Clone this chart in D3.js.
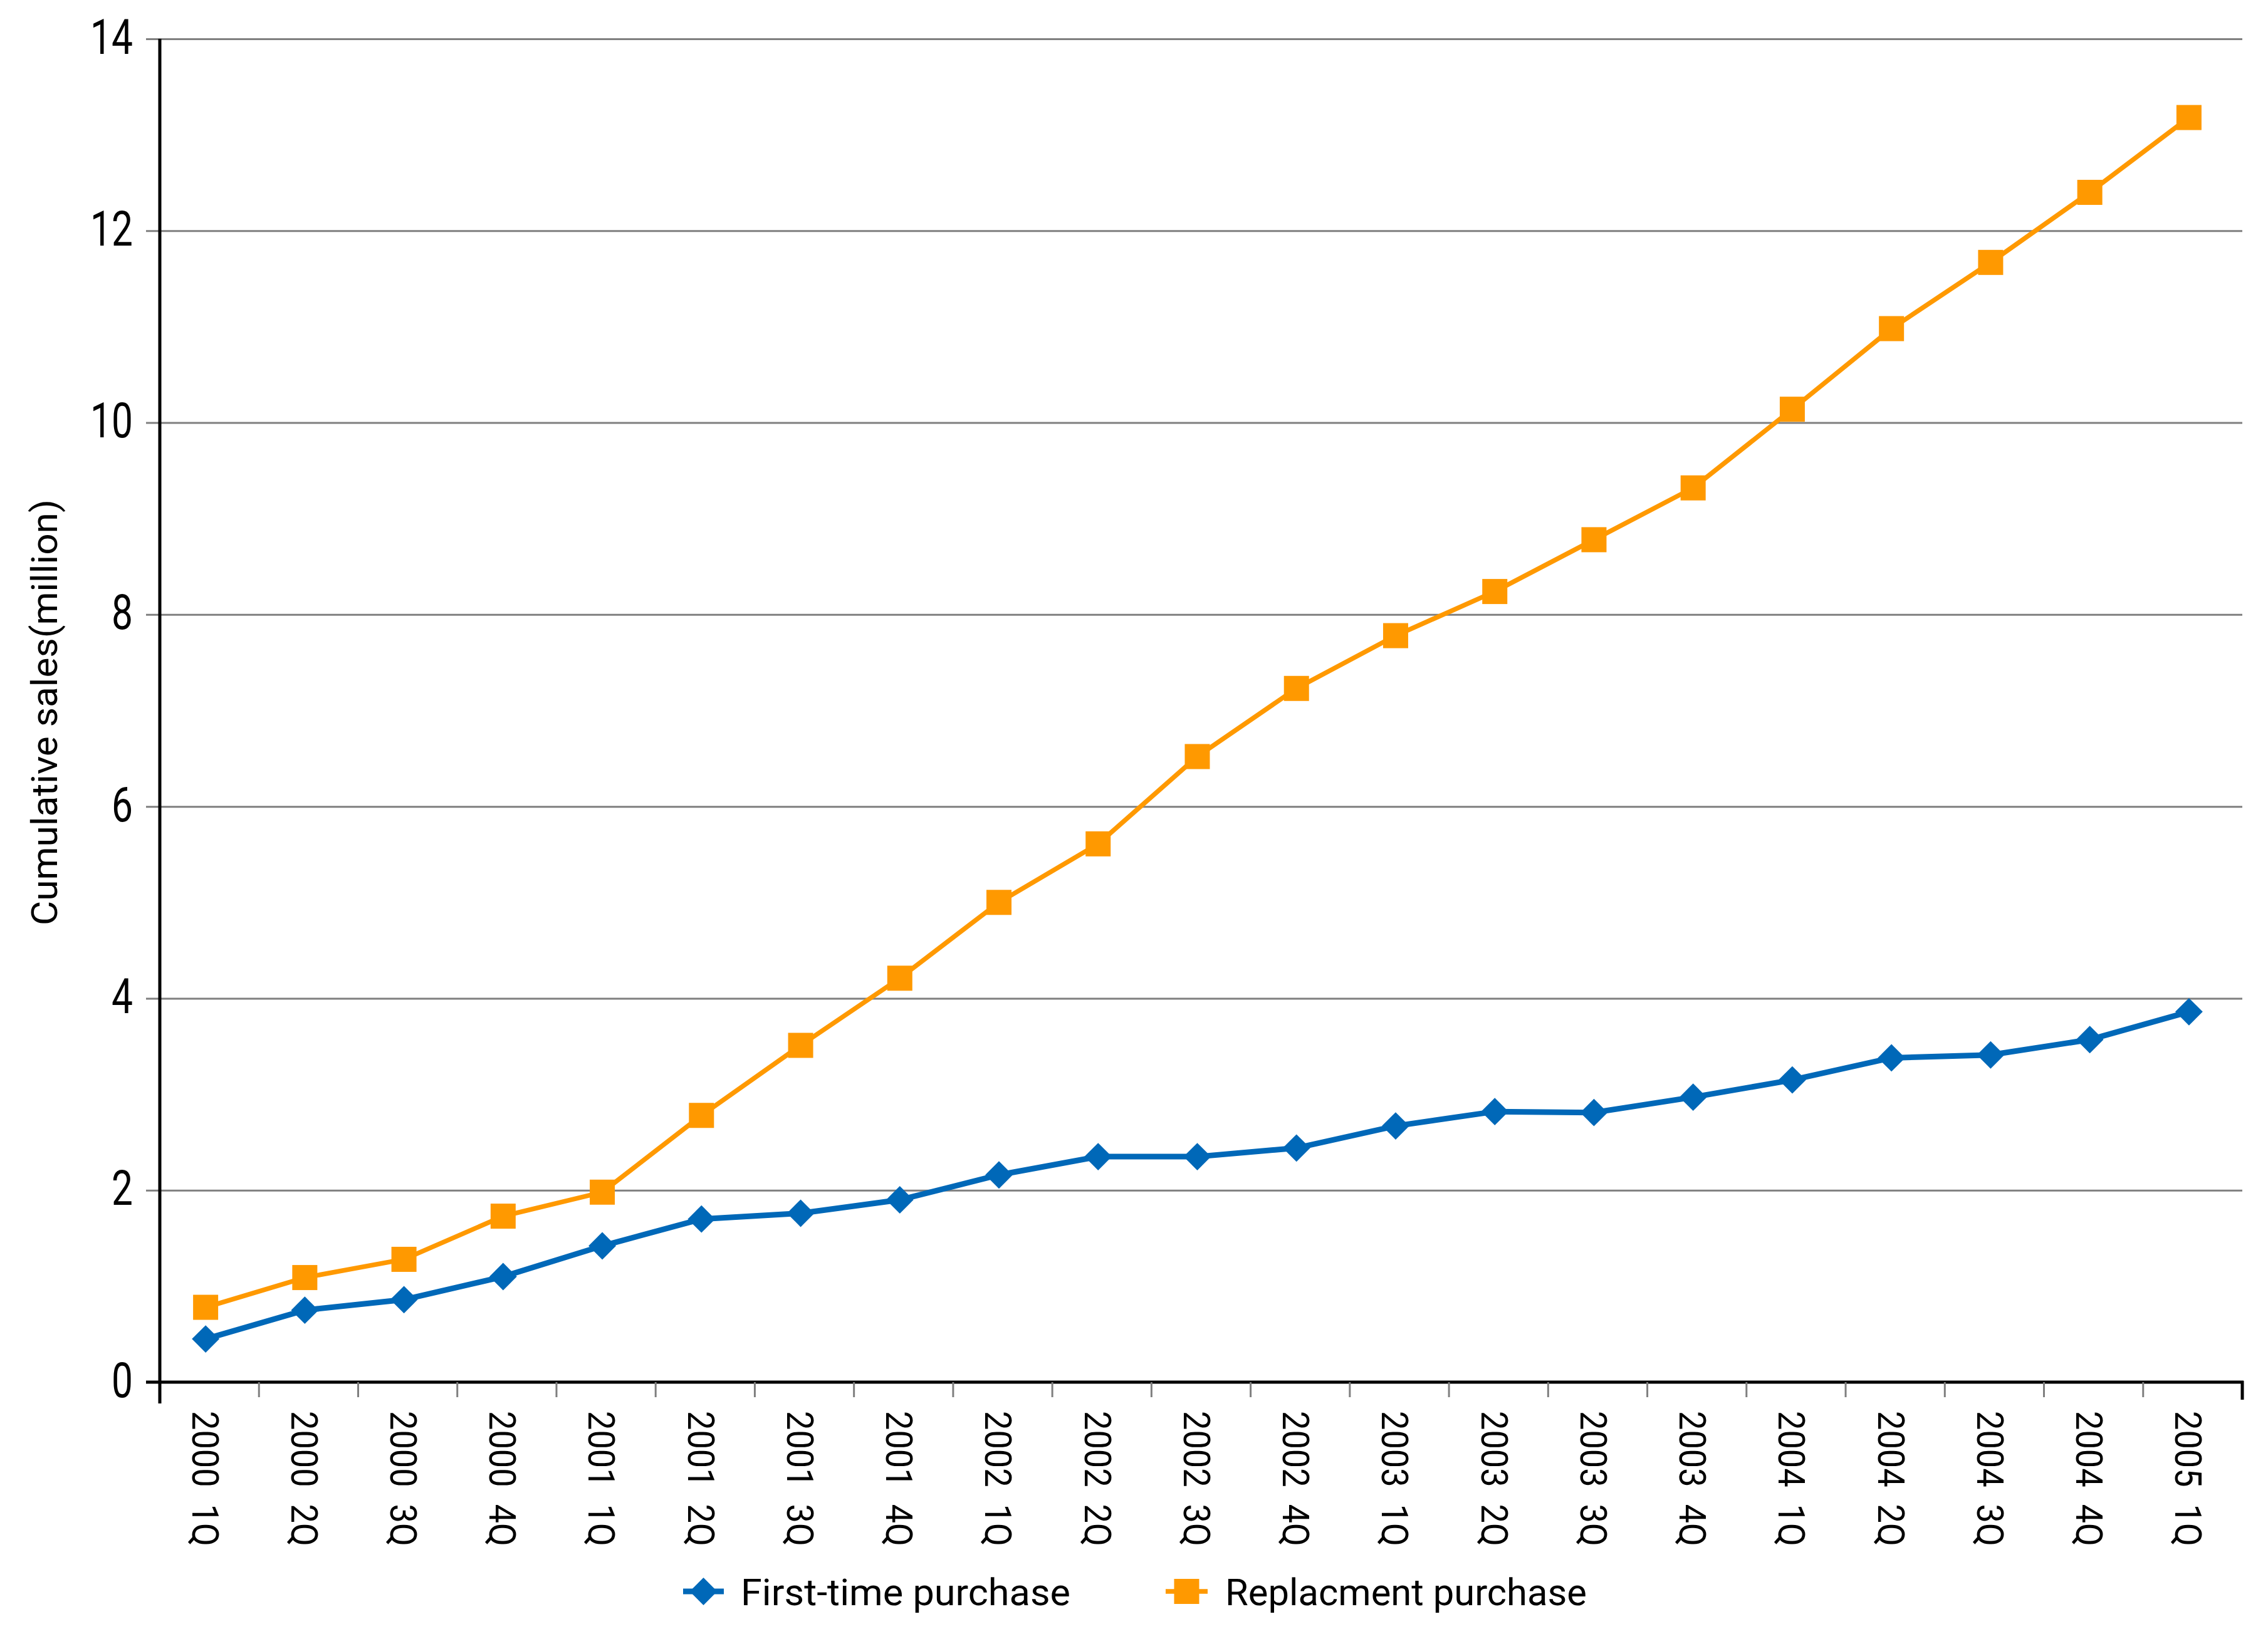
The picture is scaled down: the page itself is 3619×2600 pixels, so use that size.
<!DOCTYPE html>
<html>
<head>
<meta charset="utf-8">
<script src="https://cdn.jsdelivr.net/npm/d3@7"></script>
<style>
  html, body { margin: 0; padding: 0; background: #fff; }
  svg { display: block; }
  text { font-family: Roboto, "Noto Sans", sans-serif; fill: #000; }
</style>
</head>
<body>
<svg id="chart" width="3619" height="2600"></svg>
<script>
const categories = ["2000 1Q","2000 2Q","2000 3Q","2000 4Q","2001 1Q","2001 2Q","2001 3Q","2001 4Q",
  "2002 1Q","2002 2Q","2002 3Q","2002 4Q","2003 1Q","2003 2Q","2003 3Q","2003 4Q",
  "2004 1Q","2004 2Q","2004 3Q","2004 4Q","2005 1Q"];
const firstTime = [0.45,0.75,0.86,1.10,1.42,1.70,1.76,1.90,2.16,2.35,2.35,2.44,2.67,2.82,2.81,2.97,3.15,3.38,3.41,3.57,3.86];
const replacement = [0.78,1.09,1.28,1.73,1.98,2.78,3.51,4.21,5.00,5.61,6.52,7.23,7.78,8.24,8.78,9.32,10.14,10.98,11.67,12.40,13.18];
const yTicks = [0,2,4,6,8,10,12,14];
const seriesNames = ["First-time purchase","Replacment purchase"];
const colors = ["#0068b8","#ff9900"];

const svg = d3.select("#chart");
const pLeft = 255, pRight = 3578, pTop = 62, pBottom = 2206;
const gridStart = 233;
const ptShift = -6;

const x = d3.scaleBand().domain(categories).range([pLeft, pRight]).padding(0);
const y = d3.scaleLinear().domain([0, 14]).range([pBottom, pTop]);
const cx = c => x(c) + x.bandwidth() / 2 + ptShift;

// gridlines
const grid = svg.append("g").attr("transform", `translate(${gridStart},0)`)
  .call(d3.axisRight(y).tickValues(yTicks).tickSize(pRight - gridStart).tickFormat(""));
grid.select(".domain").remove();
grid.selectAll("line").attr("stroke", "#7f7f7f").attr("stroke-width", 3);

// y tick labels
const yl = svg.append("g").attr("transform", "translate(212,0)")
  .call(d3.axisLeft(y).tickValues(yTicks).tickSize(0).tickPadding(0));
yl.select(".domain").remove();
yl.selectAll("text")
  .attr("font-size", 77).attr("dy", "0.3em")
  .attr("font-family", "Roboto, sans-serif")
  .attr("textLength", d => String(d).length * 34)
  .attr("lengthAdjust", "spacingAndGlyphs");

// x axis line & ticks
svg.append("line").attr("x1", gridStart).attr("x2", pRight + 2).attr("y1", pBottom).attr("y2", pBottom)
  .attr("stroke", "#000").attr("stroke-width", 5);
svg.append("g").selectAll("line").data(categories.slice(1)).join("line")
  .attr("x1", d => x(d)).attr("x2", d => x(d))
  .attr("y1", pBottom).attr("y2", pBottom + 24)
  .attr("stroke", "#7f7f7f").attr("stroke-width", 3);
svg.append("line").attr("x1", pRight).attr("x2", pRight).attr("y1", pBottom - 2).attr("y2", pBottom + 28)
  .attr("stroke", "#000").attr("stroke-width", 5);
// y axis line
svg.append("line").attr("x1", pLeft).attr("x2", pLeft).attr("y1", pTop).attr("y2", pBottom + 34)
  .attr("stroke", "#000").attr("stroke-width", 5);

// x labels
svg.append("g").selectAll("text").data(categories).join("text")
  .attr("transform", d => `translate(${x(d) + x.bandwidth() / 2 - 6},2252) rotate(90)`)
  .attr("text-anchor", "start").attr("dy", "0.36em")
  .attr("font-size", 60)
  .attr("textLength", 216).attr("lengthAdjust", "spacingAndGlyphs")
  .text(d => d.replace(" ", "\u00a0\u00a0"));

// y title
svg.append("text")
  .attr("transform", "translate(70,1137) rotate(-90)")
  .attr("text-anchor", "middle").attr("dy", "0.36em")
  .attr("font-size", 58)
  .attr("textLength", 680).attr("lengthAdjust", "spacingAndGlyphs")
  .text("Cumulative sales(million)");

// lines
const line = d3.line().x((d, i) => cx(categories[i])).y(d => y(d));
const data = [firstTime, replacement];
const widths = [9, 7.5];
data.forEach((s, k) => {
  svg.append("path").datum(s).attr("d", line)
    .attr("fill", "none").attr("stroke", colors[k]).attr("stroke-width", widths[k])
    .attr("stroke-linejoin", "miter");
});

function marker(g, k, px, py) {
  if (k === 0) {
    g.append("rect").attr("x", -15.5).attr("y", -15.5).attr("width", 31).attr("height", 31)
      .attr("fill", colors[0])
      .attr("transform", `translate(${px},${py}) rotate(45)`);
  } else {
    g.append("rect").attr("x", px - 20).attr("y", py - 20).attr("width", 40).attr("height", 40)
      .attr("fill", colors[1]);
  }
}
data.forEach((s, k) => {
  const g = svg.append("g");
  s.forEach((v, i) => marker(g, k, cx(categories[i]), y(v)));
});

// legend
const legY = 2540;
const legItems = [
  { x0: 1090, x1: 1155, tx: 1182, len: 526 },
  { x0: 1860, x1: 1927, tx: 1955, len: 577 }
];
legItems.forEach((it, k) => {
  const g = svg.append("g");
  g.append("line").attr("x1", it.x0).attr("x2", it.x1).attr("y1", legY).attr("y2", legY)
    .attr("stroke", colors[k]).attr("stroke-width", widths[k]);
  marker(g, k, (it.x0 + it.x1) / 2, legY);
  g.append("text").attr("x", it.tx).attr("y", legY).attr("dy", "0.36em")
    .attr("font-size", 60)
    .attr("textLength", it.len).attr("lengthAdjust", "spacingAndGlyphs")
    .text(seriesNames[k]);
});
</script>
</body>
</html>
